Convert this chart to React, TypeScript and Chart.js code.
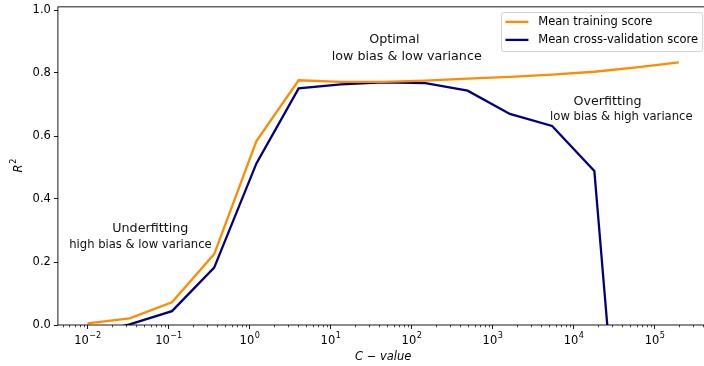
import { useEffect, useRef } from "react";
import { Chart, registerables } from "chart.js";

Chart.register(...registerables);

// Regularisation strengths (C) swept on a log grid
const cValues = [
  0.01, 0.0332, 0.1104, 0.3667, 1.218, 4.046, 13.44, 44.67, 148.4, 493.0,
  1638, 5441, 18075, 60050, 199526,
];
// Mean R² on the training folds
const trainScores = [
  0.005, 0.021, 0.072, 0.225, 0.584, 0.777, 0.772, 0.772, 0.776, 0.782,
  0.788, 0.795, 0.804, 0.818, 0.834,
];
// Mean R² on the validation folds
const cvScores = [
  -0.03, 0.002, 0.044, 0.182, 0.513, 0.751, 0.764, 0.77, 0.768, 0.744,
  0.67, 0.632, 0.489, -1.11, -2.5,
];
const seriesLabels = ["Mean training score", "Mean cross-validation score"];
const seriesColors = ["#ff8c00", "#000080"];
const xTickExponents = [-2, -1, 0, 1, 2, 3, 4, 5];
const yTickValues = [0, 0.2, 0.4, 0.6, 0.8, 1.0];

// Region notes, anchored in data coordinates (C, R²)
const notes = [
  { c: 61.4, r2: 0.906, text: "Optimal", size: 12.7 },
  { c: 87.3, r2: 0.852, text: "low bias & low variance", size: 12.7 },
  { c: 0.0596, r2: 0.307, text: "Underfitting", size: 12.7 },
  { c: 0.0451, r2: 0.254, text: "high bias & low variance", size: 11.6 },
  { c: 26300, r2: 0.71, text: "Overfitting", size: 12.7 },
  { c: 38900, r2: 0.659, text: "low bias & high variance", size: 11.6 },
];

const FONT = "'DejaVu Sans', sans-serif";
const TICK_SIZE = 11.5;
const SUP_SIZE = 8.1;

const expText = (v: number) => {
  const e = Math.round(Math.log10(v));
  return (e < 0 ? "\u2212" : "") + String(Math.abs(e));
};

// Frame, minor log ticks, power-of-ten labels, y title, notes and legend
const decorPlugin = {
  id: "decor",
  afterDraw(chart: any) {
    const { ctx, chartArea: a, scales } = chart;
    const xs = scales.x;
    const ys = scales.y;
    ctx.save();

    // minor ticks on the log axis
    ctx.strokeStyle = "#000";
    ctx.lineWidth = 0.7;
    for (let e = -3; e <= 5; e++) {
      for (let m = 2; m <= 9; m++) {
        const v = m * Math.pow(10, e);
        if (v < xs.min || v > xs.max) continue;
        const px = Math.round(xs.getPixelForValue(v)) + 0.5;
        ctx.beginPath();
        ctx.moveTo(px, a.bottom);
        ctx.lineTo(px, a.bottom + 2.3);
        ctx.stroke();
      }
    }

    // axes frame
    ctx.lineWidth = 0.9;
    ctx.strokeRect(a.left, a.top, a.right - a.left, a.bottom - a.top);

    // x tick labels as 10 with a raised exponent
    ctx.fillStyle = "#000";
    ctx.textBaseline = "alphabetic";
    ctx.textAlign = "left";
    const baseY = a.bottom + 19;
    for (const t of xs.ticks) {
      const px = xs.getPixelForValue(t.value);
      const ex = expText(t.value);
      ctx.font = `${TICK_SIZE}px ${FONT}`;
      const wBase = ctx.measureText("10").width;
      ctx.font = `${SUP_SIZE}px ${FONT}`;
      const wExp = ctx.measureText(ex).width;
      const x0 = px - (wBase + wExp) / 2;
      ctx.font = `${TICK_SIZE}px ${FONT}`;
      ctx.fillText("10", x0, baseY);
      ctx.font = `${SUP_SIZE}px ${FONT}`;
      ctx.fillText(ex, x0 + wBase + 0.5, baseY - 6.5);
    }

    // y title: italic R with superscript 2, rotated
    ctx.save();
    ctx.translate(21.5, (a.top + a.bottom) / 2);
    ctx.rotate(-Math.PI / 2);
    ctx.font = `italic ${TICK_SIZE}px ${FONT}`;
    const wR = ctx.measureText("R").width;
    ctx.font = `${SUP_SIZE}px ${FONT}`;
    const w2 = ctx.measureText("2").width;
    const rx = -(wR + w2) / 2;
    ctx.font = `italic ${TICK_SIZE}px ${FONT}`;
    ctx.fillText("R", rx, 0);
    ctx.font = `${SUP_SIZE}px ${FONT}`;
    ctx.fillText("2", rx + wR + 0.8, -5.5);
    ctx.restore();

    // region notes
    ctx.fillStyle = "#111";
    ctx.textAlign = "center";
    ctx.textBaseline = "middle";
    for (const n of notes) {
      ctx.font = `${n.size}px ${FONT}`;
      ctx.fillText(n.text, xs.getPixelForValue(n.c), ys.getPixelForValue(n.r2));
    }

    // legend box
    const fs = 11.5;
    ctx.font = `${fs}px ${FONT}`;
    const pad = 0.4 * fs;
    const handleLen = 2 * fs;
    const textPad = 0.8 * fs;
    const rowH = 18;
    const textW = Math.max(...seriesLabels.map((t) => ctx.measureText(t).width));
    const boxW = pad * 2 + handleLen + textPad + textW;
    const boxH = 39;
    const bx = a.right - 0.5 * fs - boxW;
    const by = a.top + 0.5 * fs;
    ctx.beginPath();
    ctx.roundRect(bx, by, boxW, boxH, 2.5);
    ctx.fillStyle = "rgba(255,255,255,0.8)";
    ctx.fill();
    ctx.strokeStyle = "#cccccc";
    ctx.lineWidth = 0.9;
    ctx.stroke();
    ctx.textAlign = "left";
    seriesLabels.forEach((label, i) => {
      const cy = by + 9.3 + i * rowH;
      ctx.strokeStyle = seriesColors[i];
      ctx.lineWidth = 2.3;
      ctx.beginPath();
      ctx.moveTo(bx + pad - 0.6, cy);
      ctx.lineTo(bx + pad - 0.6 + handleLen, cy);
      ctx.stroke();
      ctx.fillStyle = "#000";
      ctx.fillText(label, bx + pad + handleLen + textPad, cy);
    });
    ctx.restore();
  },
};

export default function App() {
  const canvasRef = useRef<HTMLCanvasElement | null>(null);

  useEffect(() => {
    document.body.style.margin = "0";
    document.body.style.overflow = "hidden";
    const canvas = canvasRef.current;
    if (!canvas) return;

    const chart = new Chart(canvas, {
      type: "line",
      data: {
        datasets: [trainScores, cvScores].map((arr, i) => ({
          label: seriesLabels[i],
          data: cValues.map((c, j) => ({ x: c, y: arr[j] })),
          borderColor: seriesColors[i],
          backgroundColor: seriesColors[i],
          borderWidth: 2.3,
          pointRadius: 0,
          tension: 0,
          fill: false,
          clip: 0,
        })),
      },
      options: {
        responsive: false,
        animation: false,
        events: [],
        layout: { padding: { top: 6.85, right: 11.6, left: 0, bottom: 0 } },
        plugins: {
          legend: { display: false },
          tooltip: { enabled: false },
        },
        scales: {
          x: {
            type: "logarithmic",
            min: Math.pow(10, -2.365),
            max: Math.pow(10, 5.665),
            afterBuildTicks: (s: any) => {
              s.ticks = xTickExponents.map((e) => ({ value: Math.pow(10, e) }));
            },
            afterFit: (s: any) => {
              s.height = 41;
              s.paddingLeft = 0;
              s.paddingRight = 0;
            },
            ticks: { display: false },
            grid: {
              drawOnChartArea: false,
              drawTicks: true,
              tickLength: 4,
              tickColor: "#000",
              tickWidth: 0.9,
            },
            border: { display: false },
            title: {
              display: true,
              text: "C \u2212 value",
              color: "#000",
              font: { family: FONT, size: 11.5, style: "italic" },
              padding: { top: 0, bottom: 2.2 },
            },
          },
          y: {
            type: "linear",
            min: 0,
            max: 1.01,
            afterBuildTicks: (s: any) => {
              s.ticks = yTickValues.map((v) => ({ value: v }));
            },
            afterFit: (s: any) => {
              s.width = 57.9;
              s.paddingTop = 0;
              s.paddingBottom = 0;
            },
            ticks: {
              callback: (v: any) => Number(v).toFixed(1),
              font: { family: FONT, size: 11.5 },
              color: "#000",
              padding: 3,
            },
            grid: {
              drawOnChartArea: false,
              drawTicks: true,
              tickLength: 4,
              tickColor: "#000",
              tickWidth: 0.9,
            },
            border: { display: false },
          },
        },
      },
      plugins: [decorPlugin],
    } as any);

    return () => chart.destroy();
  }, []);

  return (
    <div style={{ width: 704, height: 366, overflow: "hidden", position: "relative" }}>
      <canvas ref={canvasRef} width={720} height={366} style={{ display: "block" }} />
    </div>
  );
}
